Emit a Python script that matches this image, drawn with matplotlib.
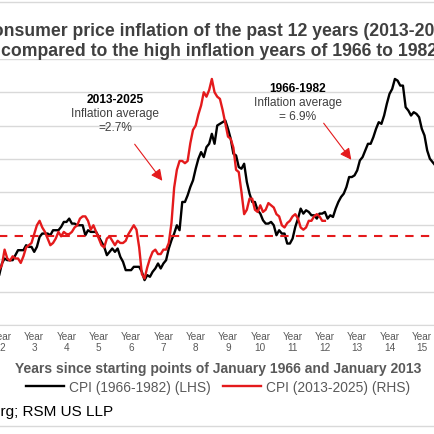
import numpy as np
import matplotlib
matplotlib.use("Agg")
import matplotlib.pyplot as plt
from matplotlib.lines import Line2D

plt.rcParams["font.family"] = ["Liberation Sans", "DejaVu Sans"]

# CPI y/y, %, monthly, Jan 1966 .. Dec 1982 (left axis)
cpi_1966_1982 = [
    1.9, 2.6, 2.6, 2.9, 2.9, 2.5, 2.9, 3.5, 3.5, 3.8, 3.8, 3.5,   # 1966
    3.5, 2.8, 2.8, 2.5, 2.8, 2.8, 2.8, 2.5, 2.8, 2.4, 2.7, 3.0,   # 1967
    3.7, 4.0, 3.9, 3.9, 3.9, 4.2, 4.5, 4.5, 4.5, 4.8, 4.7, 4.7,   # 1968
    4.4, 4.7, 5.3, 5.5, 5.5, 5.5, 5.4, 5.7, 5.7, 5.7, 5.9, 6.2,   # 1969
    6.2, 6.4, 6.1, 6.1, 6.0, 6.0, 6.0, 5.4, 5.7, 5.6, 5.6, 5.6,   # 1970
    5.3, 5.0, 4.7, 4.2, 4.4, 4.6, 4.4, 4.6, 4.1, 3.8, 3.3, 3.3,   # 1971
    3.3, 3.5, 3.5, 3.5, 3.2, 2.7, 3.0, 2.9, 3.2, 3.4, 3.7, 3.4,   # 1972
    3.7, 3.9, 4.6, 5.1, 5.5, 6.0, 5.7, 7.4, 7.4, 7.8, 8.3, 8.7,   # 1973
    9.4, 10.0, 10.4, 10.1, 10.7, 10.9, 11.5, 10.9, 12.0, 12.1, 12.2, 12.3,   # 1974
    11.8, 11.2, 10.3, 10.2, 9.5, 9.4, 9.7, 8.6, 7.9, 7.4, 7.4, 6.9,   # 1975
    6.7, 6.3, 6.1, 6.1, 6.2, 6.0, 5.4, 5.7, 5.5, 5.5, 4.9, 4.9,   # 1976
    5.2, 5.9, 6.4, 7.0, 6.7, 6.9, 6.8, 6.6, 6.6, 6.4, 6.7, 6.7,   # 1977
    6.8, 6.4, 6.6, 6.5, 7.0, 7.4, 7.7, 7.9, 8.3, 8.9, 8.9, 9.0,   # 1978
    9.3, 9.9, 10.1, 10.5, 10.9, 10.9, 11.3, 11.8, 12.2, 12.1, 12.6, 13.3,   # 1979
    13.9, 14.2, 14.8, 14.7, 14.4, 14.4, 13.1, 12.9, 12.6, 12.8, 12.7, 12.5,   # 1980
    11.8, 11.4, 10.5, 10.0, 9.8, 9.6, 10.8, 10.8, 11.0, 10.1, 9.6, 8.9,   # 1981
    8.4, 7.6, 6.8, 6.5, 6.7, 7.1, 6.4, 5.9, 5.0, 5.1, 4.6, 3.8,   # 1982
]

# CPI y/y, %, monthly, Dec 2013 .. Dec 2025 (right axis)
cpi_2013_2025 = [
    1.5,                                                          # Dec 2013
    1.6, 1.1, 1.5, 2.0, 2.1, 2.1, 2.0, 1.7, 1.7, 1.7, 1.3, 0.8,   # 2014
    -0.1, 0.0, -0.1, -0.2, 0.0, 0.1, 0.2, 0.2, 0.0, 0.2, 0.5, 0.7,   # 2015
    1.4, 1.0, 0.9, 1.1, 1.0, 1.0, 0.8, 1.1, 1.5, 1.6, 1.7, 2.1,   # 2016
    2.5, 2.7, 2.4, 2.2, 1.9, 1.6, 1.7, 1.9, 2.2, 2.0, 2.2, 2.1,   # 2017
    2.1, 2.2, 2.4, 2.5, 2.8, 2.9, 2.9, 2.7, 2.3, 2.5, 2.2, 1.9,   # 2018
    1.6, 1.5, 1.9, 2.0, 1.8, 1.6, 1.8, 1.7, 1.7, 1.8, 2.1, 2.3,   # 2019
    2.5, 2.3, 1.5, 0.3, 0.1, 0.6, 1.0, 1.3, 1.4, 1.2, 1.2, 1.4,   # 2020
    1.4, 1.7, 2.6, 4.2, 5.0, 5.4, 5.4, 5.3, 5.4, 6.2, 6.8, 7.0,   # 2021
    7.5, 7.9, 8.5, 8.3, 8.6, 9.1, 8.5, 8.3, 8.2, 7.7, 7.1, 6.5,   # 2022
    6.4, 6.0, 5.0, 4.9, 4.0, 3.0, 3.2, 3.7, 3.7, 3.2, 3.1, 3.4,   # 2023
    3.1, 3.2, 3.5, 3.4, 3.3, 3.0, 2.9, 2.5, 2.4, 2.6, 2.7, 2.9,   # 2024
    3.0, 2.8, 2.4, 2.3, 2.4, 2.7, 2.7, 2.9, 3.0, 2.9, 2.7, 2.7,   # 2025
]

fed_target = 2.0
year_ticks = list(range(1, 17))
tick_labels = [f"Year\n{k}" for k in year_ticks]

RED = "#e41a1c"
GREY_TXT = "#595959"
GRID = "#d9d9d9"

W = 435.0


def fx(px):
    return px / W


def fy(py):
    return 1 - py / W


fig = plt.figure(figsize=(4.35, 4.35), dpi=100)
# the plot area is wider than the picture: the chart is cut on both sides
px_per_year = 32.3
x0 = -62.7
ax = fig.add_axes([fx(x0), fy(326), 17 * px_per_year / W, (326 - 60) / W])

x_black = np.arange(len(cpi_1966_1982)) / 12.0
x_red = np.arange(len(cpi_2013_2025)) / 12.0

ax.plot(x_black, cpi_1966_1982, color="black", lw=1.7, zorder=3)
ax.set_ylim(0, 16)
ax.set_yticks(np.arange(0, 17, 2))
ax.set_xlim(0, 17)
ax.grid(axis="y", color=GRID, lw=1)
ax.set_axisbelow(True)
ax.set_xticks(year_ticks)
ax.set_xticklabels(tick_labels, fontsize=7.2, color=GREY_TXT, linespacing=1.05)
ax.tick_params(axis="x", length=0, pad=4.5)
ax.tick_params(axis="y", length=0, labelleft=False)
for s in ["top", "left", "right"]:
    ax.spines[s].set_visible(False)
ax.spines["bottom"].set_color(GRID)

ax2 = ax.twinx()
ax2.plot(x_red, cpi_2013_2025, color=RED, lw=1.7, zorder=3)
ax2.axhline(fed_target, color=RED, lw=1.5, ls=(0, (4, 3.5)))
ax2.set_ylim(-2, 10)
ax2.tick_params(axis="y", length=0, labelright=False)
for s in ax2.spines.values():
    s.set_visible(False)

# annotations
fig.text(fx(115), fy(100), "2013-2025", ha="center", va="center",
         fontsize=8.6, fontweight="bold", color="black")
fig.text(fx(115), fy(121), "Inflation average\n=2.7%", ha="center", va="center",
         fontsize=8.6, color="#404040", linespacing=1.2)
fig.text(fx(298), fy(89), "1966-1982", ha="center", va="center",
         fontsize=8.6, fontweight="bold", color="black")
fig.text(fx(298), fy(110), "Inflation average\n= 6.9%", ha="center", va="center",
         fontsize=8.6, color="#404040", linespacing=1.2)

arrow = dict(arrowstyle="-|>", color=RED, lw=0.8, mutation_scale=17)
ax.annotate("", xy=(fx(164), fy(184)), xycoords="figure fraction",
            xytext=(fx(133), fy(143)), textcoords="figure fraction", arrowprops=arrow)
ax.annotate("", xy=(fx(353), fy(163)), xycoords="figure fraction",
            xytext=(fx(322), fy(122)), textcoords="figure fraction", arrowprops=arrow)

# titles and texts
fig.text(0.505, fy(32), "Consumer price inflation of the past 12 years (2013-2025)",
         ha="center", va="center", fontsize=12.7, fontweight="bold", color="#404040")
fig.text(0.503, fy(52), "compared to the high inflation years of 1966 to 1982",
         ha="center", va="center", fontsize=12.7, fontweight="bold", color="#404040")
fig.text(fx(218), fy(369), "Years since starting points of January 1966 and January 2013",
         ha="center", va="center", fontsize=10, fontweight="bold", color=GREY_TXT)

handles = [Line2D([], [], color="black", lw=1.7), Line2D([], [], color=RED, lw=1.7)]
leg = fig.legend(handles, ["CPI (1966-1982) (LHS)", "CPI (2013-2025) (RHS)"],
                 loc="center", bbox_to_anchor=(fx(218), fy(388)), ncol=2, frameon=False,
                 fontsize=9.9, handlelength=2.8, handletextpad=0.35, columnspacing=0.9)
for t in leg.get_texts():
    t.set_color(GREY_TXT)

fig.text(fx(113), fy(412), "Source: Bloomberg; RSM US LLP", ha="right", va="center",
         fontsize=11, color="black")

for py in (3, 427):
    fig.add_artist(Line2D([0, 1], [fy(py), fy(py)], color=GRID, lw=1,
                          transform=fig.transFigure))

fig.savefig("out.png", dpi=100)
